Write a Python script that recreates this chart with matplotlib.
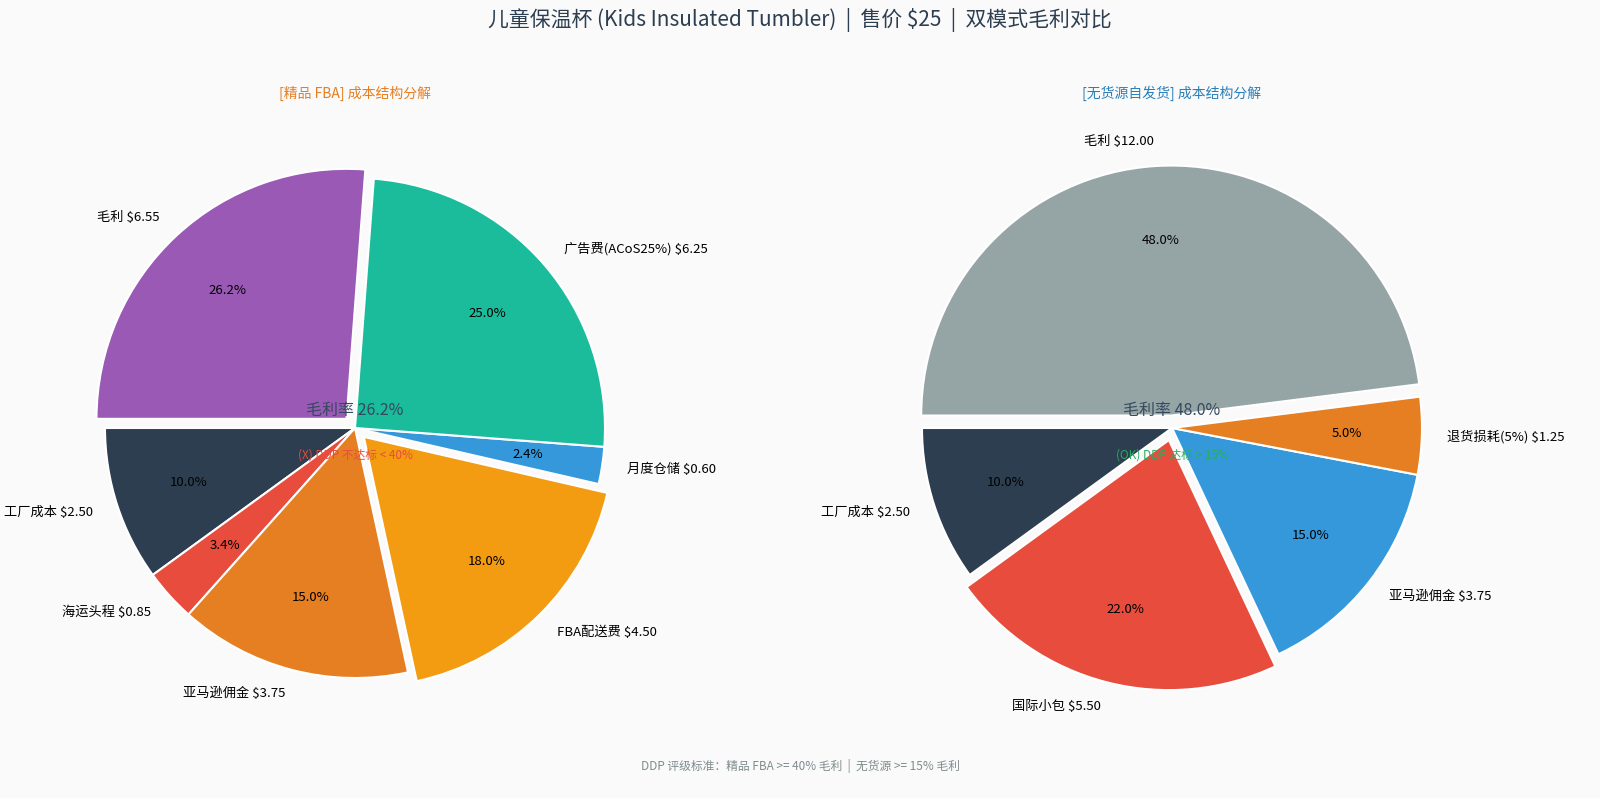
import matplotlib
matplotlib.use("Agg")
import matplotlib.pyplot as plt

plt.rcParams['font.family'] = ['Noto Sans CJK SC', 'DejaVu Sans']

fba_labels = ["工厂成本", "海运头程", "亚马逊佣金", "FBA配送费", "月度仓储", "广告费(ACoS25%)", "毛利"]
fba_values = [2.50, 0.85, 3.75, 4.50, 0.60, 6.25, 6.55]
fba_colors = ["#2c3e50", "#e74c3c", "#e67e22", "#f39c12", "#3498db", "#1abc9c", "#9b59b6"]
fba_explode = [0, 0, 0, 0.05, 0, 0, 0.05]

dp_labels = ["工厂成本", "国际小包", "亚马逊佣金", "退货损耗(5%)", "毛利"]
dp_values = [2.50, 5.50, 3.75, 1.25, 12.00]
dp_colors = ["#2c3e50", "#e74c3c", "#3498db", "#e67e22", "#95a5a6"]
dp_explode = [0, 0.05, 0, 0, 0.05]

W, H = 1600, 798
fig = plt.figure(figsize=(16, 7.98), dpi=100, facecolor="#fafafa")
S = 700
ax1 = fig.add_axes([(355 - S / 2) / W, (H - 428 - S / 2) / H, S / W, S / H])
ax2 = fig.add_axes([(1172 - S / 2) / W, (H - 428 - S / 2) / H, S / W, S / H])

def draw(ax, labels, values, colors, explode, title, tcolor, margin, status, scolor, cx):
    ax.set_facecolor("#fafafa")
    lbls = [f"{l} ${v:.2f}" for l, v in zip(labels, values)]
    ax.pie(values, labels=lbls, colors=colors, explode=explode, startangle=180,
           autopct="%1.1f%%", pctdistance=0.7, labeldistance=1.1,
           wedgeprops=dict(edgecolor="white", linewidth=1.5),
           textprops=dict(fontsize=9.5))
    ax.set_xlim(-1.4, 1.4)
    ax.set_ylim(-1.4, 1.4)
    ax.set_aspect("equal")
    ax.text(0, 0.07, f"毛利率 {margin}", ha="center", va="center", fontsize=11.5, color="#34495e")
    ax.text(0, -0.11, status, ha="center", va="center", fontsize=8.5, color=scolor)
    fig.text(cx / W, 1 - 93 / H, title, ha="center", va="center", color=tcolor, fontsize=10)

draw(ax1, fba_labels, fba_values, fba_colors, fba_explode, "[精品 FBA] 成本结构分解", "#e67e22",
     "26.2%", "(X) DDP 不达标 < 40%", "#e74c3c", 355)
draw(ax2, dp_labels, dp_values, dp_colors, dp_explode, "[无货源自发货] 成本结构分解", "#2980b9",
     "48.0%", "(OK) DDP 达标 > 15%", "#27ae60", 1172)

fig.text(0.5, 1 - 20 / H, "儿童保温杯 (Kids Insulated Tumbler)  |  售价 $25  |  双模式毛利对比",
         ha="center", va="center", fontsize=15, color="#2c3e50")
fig.text(0.5, 1 - 766 / H, "DDP 评级标准：精品 FBA >= 40% 毛利  |  无货源 >= 15% 毛利", ha="center",
         va="center", fontsize=8.5, color="#7f8c8d")
fig.savefig("out.png", dpi=100, facecolor="#fafafa")
